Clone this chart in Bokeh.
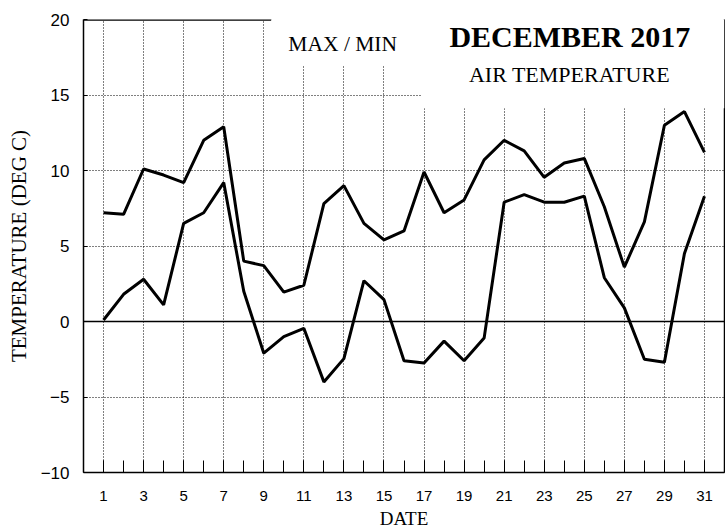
from bokeh.plotting import figure
from bokeh.models import FixedTicker, Span, BoxAnnotation, Label, LinearAxis, ColumnDataSource
from bokeh.embed import file_html
from bokeh.resources import INLINE

# ---- data ----
days = list(range(1, 32))
tmax = [7.2, 7.1, 10.1, 9.7, 9.2, 12.0, 12.9, 4.0, 3.7, 1.95, 2.4, 7.8, 9.0, 6.5, 5.4,
        6.0, 9.9, 7.2, 8.05, 10.7, 12.0, 11.3, 9.55, 10.5, 10.8, 7.6, 3.6, 6.6, 13.0, 13.9, 11.2]
tmin = [0.1, 1.8, 2.8, 1.1, 6.5, 7.2, 9.2, 2.0, -2.1, -1.0, -0.45, -4.0, -2.46, 2.7, 1.45,
        -2.6, -2.75, -1.3, -2.6, -1.1, 7.9, 8.4, 7.9, 7.9, 8.3, 2.9, 0.9, -2.5, -2.7, 4.5, 8.3]
x_label_days = list(range(1, 32, 2))
x_minor_days = list(range(0, 33))
y_ticks = [-10, -5, 0, 5, 10, 15, 20]
y_grid = [-5, 5, 10, 15]

SERIF = "Liberation Serif"
SANS = "Liberation Sans"

p = figure(width=725, height=531, x_range=(0, 32), y_range=(-10, 20),
           output_backend="svg", toolbar_location=None,
           min_border_left=83, min_border_right=1, min_border_top=19, min_border_bottom=59)
p.outline_line_color = None
p.background_fill_color = "white"
p.border_fill_color = "white"

# grid
p.xgrid.ticker = FixedTicker(ticks=x_label_days)
p.ygrid.ticker = FixedTicker(ticks=y_grid)
for g in (p.xgrid, p.ygrid):
    g.grid_line_color = "black"
    g.grid_line_dash = "1 2"
    g.grid_line_width = 1
    g.grid_line_alpha = 1.0

# x axis
xa = p.xaxis[0]
xa.ticker = FixedTicker(ticks=x_label_days, minor_ticks=x_minor_days)
xa.major_tick_in = 12
xa.major_tick_out = 0
xa.minor_tick_in = 12
xa.minor_tick_out = 0
xa.major_tick_line_color = "black"
xa.minor_tick_line_color = "black"
xa.axis_line_color = "black"
xa.axis_line_width = 1.5
xa.major_label_text_font = SANS
xa.major_label_text_font_size = "15px"
xa.major_label_text_color = "black"
xa.major_label_standoff = 18
xa.axis_label = "DATE"
xa.axis_label_text_font = SERIF
xa.axis_label_text_font_size = "19px"
xa.axis_label_text_font_style = "normal"
xa.axis_label_text_color = "black"
xa.axis_label_standoff = 4

# y axis
ya = p.yaxis[0]
ya.ticker = FixedTicker(ticks=y_ticks)
ya.major_tick_in = 4
ya.major_tick_out = 0
ya.minor_tick_line_color = None
ya.axis_line_color = "black"
ya.axis_line_width = 1.5
ya.major_label_text_font = SANS
ya.major_label_text_font_size = "17px"
ya.major_label_text_color = "black"
ya.major_label_standoff = 14
ya.axis_label = "TEMPERATURE (DEG C)"
ya.axis_label_text_font = SERIF
ya.axis_label_text_font_size = "21px"
ya.axis_label_text_font_style = "normal"
ya.axis_label_text_color = "black"
ya.axis_label_standoff = 7

# right border (axis line only)
ra = LinearAxis(ticker=FixedTicker(ticks=[]), major_tick_in=0, major_tick_out=0,
                minor_tick_line_color=None, axis_line_color="black", axis_line_width=1.5)
p.add_layout(ra, "right")

# zero line
p.add_layout(Span(location=0, dimension="width", line_color="black", line_width=1.5))

# white boxes behind the titles
p.add_layout(BoxAnnotation(left=9.38, right=16.87, bottom=16.92, top=20,
                           fill_color="white", fill_alpha=1, line_alpha=0))
p.add_layout(BoxAnnotation(left=16.87, right=32, bottom=14.13, top=20,
                           fill_color="white", fill_alpha=1, line_alpha=0))

# partial top frame line
p.segment(x0=[0], y0=[20], x1=[9.38], y1=[20], line_color="black", line_width=2.5)

# data lines
src = ColumnDataSource(dict(day=days, tmax=tmax, tmin=tmin))
p.line("day", "tmax", source=src, line_color="black", line_width=3)
p.line("day", "tmin", source=src, line_color="black", line_width=3)

# titles
p.add_layout(Label(x=12.94, y=18.41, text="MAX / MIN", text_font=SERIF, text_font_size="21.5px",
                   text_align="center", text_baseline="middle", text_color="black"))
p.add_layout(Label(x=24.28, y=18.86, text="DECEMBER 2017", text_font=SERIF, text_font_size="30px",
                   text_font_style="bold", text_align="center", text_baseline="middle",
                   text_color="black"))
p.add_layout(Label(x=24.26, y=16.37, text="AIR TEMPERATURE", text_font=SERIF, text_font_size="22px",
                   text_align="center", text_baseline="middle", text_color="black"))

open("out.html", "w").write(file_html(p, INLINE))
